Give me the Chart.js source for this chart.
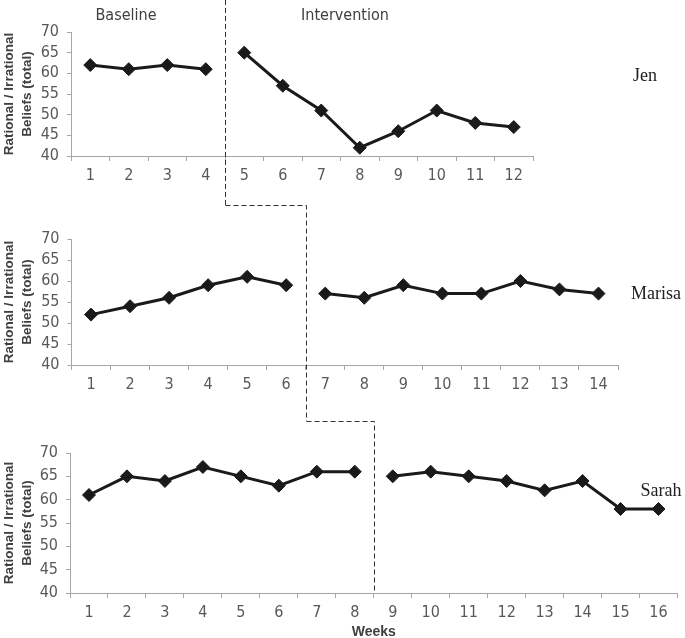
<!DOCTYPE html>
<html>
<head>
<meta charset="utf-8">
<script src="https://cdn.jsdelivr.net/npm/chart.js@4"></script>
<style>
  html, body { margin: 0; padding: 0; background: #fff; overflow: hidden; }
  #page { position: relative; width: 685px; height: 638px; }
  .panel { position: absolute; left: 0; width: 685px; }
  .lbl { position: absolute; white-space: nowrap; transform: translate(-50%, -50%); }
  .phase { font-family: 'Liberation Sans Narrow', 'DejaVu Sans Condensed', sans-serif; font-size: 16px; color: #404040; }
  .who { font-family: 'Liberation Serif', 'DejaVu Serif', serif; font-size: 18px; color: #222; }
</style>
</head>
<body>
<div id="page">
  <div class="panel" style="top:0;height:205px"><canvas id="jen"></canvas></div>
  <div class="panel" style="top:205px;height:216px"><canvas id="marisa"></canvas></div>
  <div class="panel" style="top:421px;height:220px"><canvas id="sarah"></canvas></div>

  <div class="lbl phase" style="left:126px;top:14px">Baseline</div>
  <div class="lbl phase" style="left:345px;top:14px">Intervention</div>
  <div class="lbl who" style="left:645px;top:75px">Jen</div>
  <div class="lbl who" style="left:656px;top:293px">Marisa</div>
  <div class="lbl who" style="left:661px;top:490px">Sarah</div>
</div>

<script>
// weeks (tick labels)
var jenWeeks = ['1','2','3','4','5','6','7','8','9','10','11','12'];
var marisaWeeks = ['1','2','3','4','5','6','7','8','9','10','11','12','13','14'];
var sarahWeeks = ['1','2','3','4','5','6','7','8','9','10','11','12','13','14','15','16'];

// scores per phase
var jenBaseline = [62, 61, 62, 61];
var jenIntervention = [65, 57, 51, 42, 46, 51, 48, 47];
var marisaBaseline = [52, 54, 56, 59, 61, 59];
var marisaIntervention = [57, 56, 59, 57, 57, 60, 58, 57];
var sarahBaseline = [61, 65, 64, 67, 65, 63, 66, 66];
var sarahIntervention = [65, 66, 65, 64, 62, 64, 58, 58];

var yTicks = { min: 40, max: 70, step: 5 };

var axisGrey = '#a6a6a6';
var tickFont = { family: "'Liberation Sans Narrow', 'DejaVu Sans Condensed', sans-serif", size: 16 };
var charts = [];
var phaseX = [];

function fillNulls(n){ var a = []; for (var i = 0; i < n; i++) a.push(null); return a; }

// dashed phase change line, joined to the panel above
var phaseLine = {
  id: 'phaseLine',
  afterDraw: function(chart){
    var o = chart.options.plugins.phaseLine;
    var x = chart.scales.x;
    var px = Math.round((x.getPixelForValue(o.at - 1) + x.getPixelForValue(o.at)) / 2) + 0.5;
    phaseX[o.idx] = px;
    var ctx = chart.ctx;
    ctx.save();
    ctx.strokeStyle = '#333';
    ctx.lineWidth = 1;
    ctx.setLineDash([5, 3]);
    ctx.beginPath();
    if (o.idx > 0 && phaseX[o.idx - 1] != null) {
      ctx.moveTo(phaseX[o.idx - 1], 0.5);
      ctx.lineTo(px, 0.5);
    } else {
      ctx.moveTo(px, 0);
    }
    ctx.lineTo(px, o.toAxis ? chart.chartArea.bottom : chart.height);
    ctx.stroke();
    ctx.restore();
  }
};

function makePanel(id, idx, weeks, baseline, intervention, cfg){
  var n = weeks.length;
  var base = baseline.concat(fillNulls(n - baseline.length));
  var inter = fillNulls(baseline.length).concat(intervention);
  var ds = function(d){
    return {
      data: d,
      borderColor: '#1a1a1a',
      backgroundColor: '#1a1a1a',
      borderWidth: 3,
      pointStyle: 'rectRot',
      pointRadius: 6.5,
      pointBorderWidth: 1,
      spanGaps: false,
      tension: 0
    };
  };
  var ctx = document.getElementById(id).getContext('2d');
  var ch = new Chart(ctx, {
    type: 'line',
    data: { labels: weeks, datasets: [ds(base), ds(inter)] },
    options: {
      responsive: true,
      maintainAspectRatio: false,
      animation: false,
      devicePixelRatio: 1,
      layout: { padding: { top: cfg.top, right: cfg.right, bottom: 0, left: 0 } },
      plugins: {
        legend: { display: false },
        tooltip: { enabled: false },
        phaseLine: { at: baseline.length, idx: idx, toAxis: cfg.toAxis }
      },
      scales: {
        x: {
          type: 'category',
          offset: true,
          grid: { offset: true, drawOnChartArea: false, drawTicks: true, tickLength: 5, color: axisGrey },
          border: { color: axisGrey, width: 1 },
          ticks: { color: '#595959', font: tickFont, padding: 5, maxRotation: 0, autoSkip: false },
          title: {
            display: !!cfg.xTitle,
            text: cfg.xTitle || '',
            color: '#404040',
            font: { family: "'Liberation Sans', Arial, sans-serif", size: 14, weight: 'bold' },
            padding: 0
          },
          afterFit: function(s){ s.height = cfg.xHeight; }
        },
        y: {
          min: yTicks.min,
          max: yTicks.max,
          grid: { drawOnChartArea: false, drawTicks: true, tickLength: 4, color: axisGrey },
          border: { color: axisGrey, width: 1 },
          ticks: { stepSize: yTicks.step, color: '#595959', font: tickFont, padding: 8, autoSkip: false },
          title: {
            display: true,
            text: ['Rational / Irrational', 'Beliefs (total)'],
            color: '#404040',
            font: { family: "'Liberation Sans', Arial, sans-serif", size: 13.5, weight: 'bold', lineHeight: 1.35 },
            padding: 0
          },
          afterFit: function(s){ s.width = cfg.left; }
        }
      }
    },
    plugins: [phaseLine]
  });
  charts.push(ch);
  return ch;
}

makePanel('jen', 0, jenWeeks, jenBaseline, jenIntervention,
  { top: 32, right: 152, left: 71, xHeight: 49 });
makePanel('marisa', 1, marisaWeeks, marisaBaseline, marisaIntervention,
  { top: 34, right: 67, left: 71.5, xHeight: 56 });
makePanel('sarah', 2, sarahWeeks, sarahBaseline, sarahIntervention,
  { top: 32, right: 4, left: 70, xHeight: 48, toAxis: true, xTitle: 'Weeks' });
</script>
</body>
</html>
